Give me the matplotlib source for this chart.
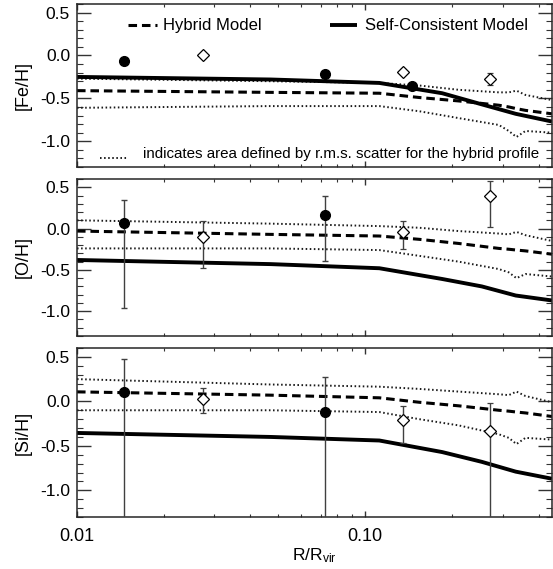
import numpy as np
import matplotlib
matplotlib.use("Agg")
import matplotlib.pyplot as plt
from matplotlib.ticker import FixedLocator, MultipleLocator, FormatStrFormatter, NullFormatter

plt.rcParams['font.family'] = ['Liberation Sans', 'DejaVu Sans']
plt.rcParams['mathtext.fontset'] = 'custom'
plt.rcParams['mathtext.rm'] = 'Liberation Sans'
plt.rcParams['mathtext.it'] = 'Liberation Sans:italic'

# hybrid model profile (dashed) and r.m.s. envelope (dotted)
r_hyb = [0.01, 0.0466, 0.112, 0.154, 0.211, 0.291, 0.315, 0.335, 0.36, 0.445]
fe_hyb = [-0.41, -0.43, -0.44, -0.49, -0.53, -0.58, -0.60, -0.62, -0.64, -0.68]
fe_up = [-0.27, -0.30, -0.32, -0.35, -0.40, -0.43, -0.43, -0.41, -0.46, -0.52]
fe_lo = [-0.61, -0.59, -0.59, -0.65, -0.73, -0.81, -0.88, -0.95, -0.88, -0.90]
o_hyb = [-0.03, -0.07, -0.09, -0.13, -0.18, -0.24, -0.25, -0.26, -0.27, -0.31]
o_up = [0.10, 0.06, 0.03, 0.01, -0.03, -0.06, -0.07, -0.04, -0.08, -0.15]
o_lo = [-0.24, -0.24, -0.26, -0.33, -0.40, -0.49, -0.53, -0.60, -0.55, -0.58]
si_hyb = [0.107, 0.07, 0.04, -0.01, -0.05, -0.10, -0.11, -0.12, -0.13, -0.17]
si_up = [0.25, 0.19, 0.165, 0.14, 0.11, 0.08, 0.07, 0.11, 0.06, -0.01]
si_lo = [-0.10, -0.10, -0.12, -0.20, -0.27, -0.37, -0.41, -0.48, -0.41, -0.43]

# self-consistent model (solid)
r_sc = [0.01, 0.047, 0.112, 0.185, 0.254, 0.333, 0.445]
fe_sc = [-0.25, -0.28, -0.32, -0.44, -0.57, -0.68, -0.77]
o_sc = [-0.38, -0.43, -0.48, -0.61, -0.70, -0.81, -0.87]
si_sc = [-0.355, -0.40, -0.44, -0.57, -0.68, -0.79, -0.87]

# observations: filled circles and open diamonds
r_circ = [0.0145, 0.0727, 0.1455]
r_diam = [0.0273, 0.1355, 0.271]

fe_circ = [-0.07, -0.215, -0.35]
fe_circ_lo = [0.03, 0.02, 0.02]
fe_circ_hi = [0.03, 0.02, 0.02]
fe_diam = [0.0, -0.19, -0.27]
fe_diam_lo = [0.02, 0.03, 0.07]
fe_diam_hi = [0.02, 0.03, 0.06]

o_circ = [0.067, 0.16]
o_circ_lo = [1.03, 0.55]
o_circ_hi = [0.28, 0.23]
o_diam = [-0.10, -0.046, 0.39]
o_diam_lo = [0.38, 0.20, 0.375]
o_diam_hi = [0.19, 0.133, 0.19]

si_circ = [0.10, -0.12]
si_circ_lo = [1.6, 1.4]
si_circ_hi = [0.38, 0.39]
si_diam = [0.03, -0.21, -0.33]
si_diam_lo = [0.16, 0.26, 1.2]
si_diam_hi = [0.115, 0.16, 0.315]

panels = [
    ('[Fe/H]', fe_hyb, fe_up, fe_lo, fe_sc, fe_circ, fe_circ_lo, fe_circ_hi,
     fe_diam, fe_diam_lo, fe_diam_hi),
    ('[O/H]', o_hyb, o_up, o_lo, o_sc, o_circ, o_circ_lo, o_circ_hi,
     o_diam, o_diam_lo, o_diam_hi),
    ('[Si/H]', si_hyb, si_up, si_lo, si_sc, si_circ, si_circ_lo, si_circ_hi,
     si_diam, si_diam_lo, si_diam_hi),
]

W, H = 553, 569
fig = plt.figure(figsize=(W / 100, H / 100), dpi=100)
# pixel extents (top, bottom) of each panel
extents = [(4, 167), (179, 336), (348, 517)]
left, right = 77, 552

axes = []
for (top, bot) in extents:
    ax = fig.add_axes([left / W, 1 - bot / H, (right - left) / W, (bot - top) / H])
    axes.append(ax)

dash_kw = dict(color='black', lw=2.2, dashes=(2.8, 1.6))
dot_kw = dict(color='0.1', lw=1.4, dashes=(0.8, 1.3))
solid_kw = dict(color='black', lw=2.8, solid_capstyle='butt')
err_kw = dict(ls='none', ecolor='0.25', elinewidth=1.0, capsize=2.5, capthick=1.0)

for i, (ax, p) in enumerate(zip(axes, panels)):
    (lab, hyb, up, lo, sc, circ, clo, chi, diam, dlo, dhi) = p
    ax.plot(r_hyb, up, **dot_kw)
    ax.plot(r_hyb, lo, **dot_kw)
    ax.plot(r_hyb, hyb, **dash_kw)
    ax.plot(r_sc, sc, **solid_kw)
    ax.errorbar(r_circ[:len(circ)], circ, yerr=[clo, chi], marker='o', ms=7,
                mfc='black', mec='black', zorder=5, **err_kw)
    ax.errorbar(r_diam, diam, yerr=[dlo, dhi], marker='D', ms=5.8, mew=0.9,
                mfc='white', mec='black', zorder=5, **err_kw)

    ax.set_xscale('log')
    ax.set_xlim(0.01, 0.445)
    ax.set_ylim(-1.3, 0.6)
    ax.xaxis.set_major_locator(FixedLocator([0.01, 0.1]))
    ax.xaxis.set_minor_locator(FixedLocator(
        [k * 0.01 for k in range(2, 10)] + [k * 0.1 for k in range(2, 5)]))
    ax.xaxis.set_minor_formatter(NullFormatter())
    if i == 2:
        ax.xaxis.set_major_formatter(FormatStrFormatter('%.2f'))
        ax.set_xlabel(r'R/R$_{\rm vir}$', fontsize=12.5, labelpad=1)
    else:
        ax.xaxis.set_major_formatter(NullFormatter())
    ax.yaxis.set_major_locator(MultipleLocator(0.5))
    ax.yaxis.set_minor_locator(MultipleLocator(0.1))
    ax.yaxis.set_major_formatter(FormatStrFormatter('%.1f'))
    ax.set_ylabel(lab, fontsize=13, labelpad=6)
    ax.tick_params(axis='both', which='both', direction='in', top=True,
                   right=True, color='0.2', labelsize=12.5, pad=5)
    ax.tick_params(axis='y', which='major', length=10, width=1.0)
    ax.tick_params(axis='y', which='minor', length=4.5, width=0.8)
    ax.tick_params(axis='x', which='major', length=4, width=1.0, pad=8,
                   labelsize=13)
    ax.tick_params(axis='x', which='minor', length=2.2, width=0.8)
    for s in ax.spines.values():
        s.set_linewidth(1.1)
        s.set_color('0.15')

# legend drawn inside the top panel
ax = axes[0]
ax.plot([0.107, 0.168], [0.871, 0.871], transform=ax.transAxes, **dash_kw)
ax.text(0.181, 0.871, 'Hybrid Model', transform=ax.transAxes, fontsize=12,
        va='center', ha='left')
ax.plot([0.532, 0.590], [0.871, 0.871], transform=ax.transAxes, **solid_kw)
ax.text(0.607, 0.871, 'Self-Consistent Model', transform=ax.transAxes,
        fontsize=12, va='center', ha='left')
ax.plot([0.048, 0.105], [0.058, 0.058], transform=ax.transAxes, **dot_kw)
ax.text(0.139, 0.08, 'indicates area defined by r.m.s. scatter for the hybrid profile',
        transform=ax.transAxes, fontsize=10.9, va='center', ha='left')

fig.savefig('out.png', dpi=100)
